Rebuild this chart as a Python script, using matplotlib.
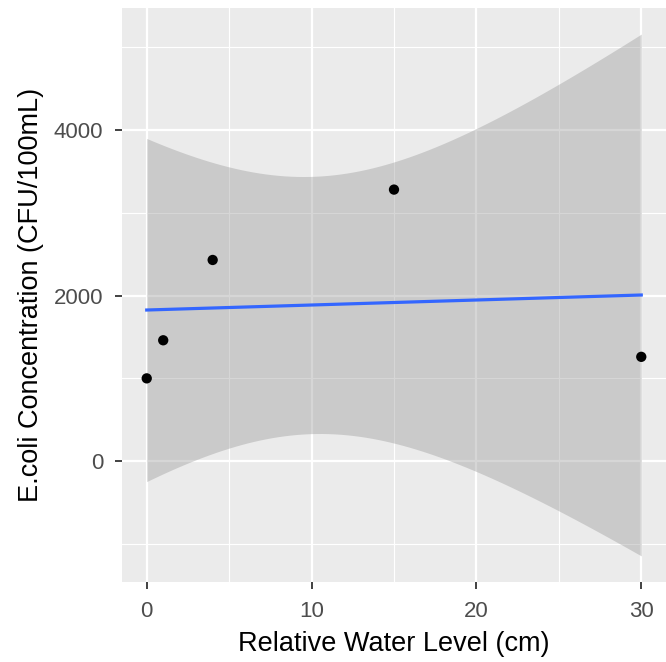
import numpy as np
import matplotlib
matplotlib.use("Agg")
import matplotlib.pyplot as plt

# data
water_level = np.array([0, 1, 4, 15, 30])
ecoli = np.array([1000, 1460, 2430, 3280, 1260])

x_ticks = [0, 10, 20, 30]
y_ticks = [0, 2000, 4000]

plt.rcParams['font.family'] = ['Liberation Sans', 'DejaVu Sans']

# linear fit with 95% confidence band (like geom_smooth(method="lm"))
n = len(water_level)
slope, intercept = np.polyfit(water_level, ecoli, 1)
resid = ecoli - (intercept + slope * water_level)
s = np.sqrt(np.sum(resid ** 2) / (n - 2))
t_crit = 3.182446  # t(0.975, df=3)
xbar = water_level.mean()
sxx = np.sum((water_level - xbar) ** 2)
xs = np.linspace(water_level.min(), water_level.max(), 80)
fit = intercept + slope * xs
se = s * np.sqrt(1 / n + (xs - xbar) ** 2 / sxx)
lo, hi = fit - t_crit * se, fit + t_crit * se

fig = plt.figure(figsize=(6.66, 6.62), dpi=100)
ax = fig.add_axes([122 / 666, 80 / 662, 544 / 666, 574 / 662])
ax.set_facecolor('#EBEBEB')

ax.fill_between(xs, lo, hi, color='#999999', alpha=0.4, linewidth=0, zorder=2)
ax.plot(xs, fit, color='#3366FF', lw=2.3, zorder=3)
ax.scatter(water_level, ecoli, s=55, color='black', edgecolor='none', zorder=4)

# ggplot style expansion
xr = water_level.max() - water_level.min()
ax.set_xlim(water_level.min() - 0.05 * xr, water_level.max() + 0.05 * xr)
ymin, ymax = min(lo.min(), ecoli.min()), max(hi.max(), ecoli.max())
yr = ymax - ymin
ax.set_ylim(ymin - 0.05 * yr, ymax + 0.05 * yr)

ax.set_xticks(x_ticks)
ax.set_yticks(y_ticks)
ax.set_xticks([5, 15, 25], minor=True)
ax.set_yticks([-1000, 1000, 3000, 5000], minor=True)
ax.grid(which='major', color='white', lw=1.6, zorder=0)
ax.grid(which='minor', color='white', lw=0.8, zorder=0)
ax.set_axisbelow(True)

for sp in ax.spines.values():
    sp.set_visible(False)
ax.tick_params(which='major', length=5, width=1.3, color='#333333',
               labelsize=16, labelcolor='#4D4D4D', pad=8.5)
ax.tick_params(which='minor', length=0)

ax.set_xlabel('Relative Water Level (cm)', fontsize=19.5, color='black', labelpad=7)
ax.set_ylabel('E.coli Concentration (CFU/100mL)', fontsize=19.5, color='black', labelpad=7)

fig.savefig('out.png', dpi=100)
